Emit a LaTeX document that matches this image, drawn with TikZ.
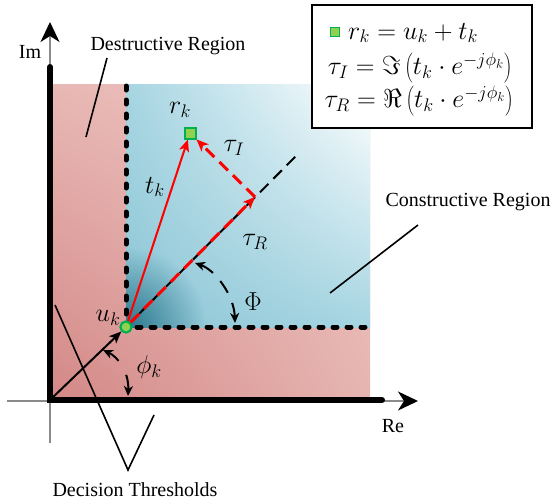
\RequirePackage{fix-cm}
\documentclass[tikz,border=0pt]{standalone}
\usepackage{fontspec}
\setmainfont{Liberation Serif}
\newfontfamily\labelfont{Liberation Serif}
\usetikzlibrary{arrows.meta,fadings,shadings}
\tikzfading[name=radfade, inner color=transparent!0, outer color=transparent!100]
\definecolor{pinkLL}{HTML}{D38886}
\definecolor{pinkUL}{HTML}{E8B8B5}
\definecolor{pinkLR}{HTML}{E6B5B1}
\definecolor{pinkUR}{HTML}{EFC6C3}
\definecolor{blueLL}{HTML}{8DC6D6}
\definecolor{blueMid}{HTML}{A6D5E2}
\definecolor{blueDark}{HTML}{2A778D}
\definecolor{lgreen}{HTML}{92D050}
\definecolor{dgreen}{HTML}{00B050}
\definecolor{axgray}{HTML}{8A8A8A}
\definecolor{vred}{HTML}{FF0000}
\begin{document}
\begin{tikzpicture}[x=1pt,y=-1pt,
  txt/.style={font=\labelfont\fontsize{20}{24}\selectfont, inner sep=0pt},
  mth/.style={font=\fontsize{26}{30}\selectfont, inner sep=0pt},
  thinline/.style={line width=1.6pt},
  boundary/.style={line width=5pt, dash pattern=on 4pt off 10pt, line cap=round},
  axisgray/.style={draw=axgray, line width=2pt, -{Stealth[length=20pt,width=19pt,inset=6pt,color=black]}},
  thickaxis/.style={line width=6pt, line cap=round},
  blackdash/.style={line width=2pt, dash pattern=on 12pt off 7pt},
  reddash/.style={draw=vred, line width=3pt, dash pattern=on 12pt off 7pt, -{Stealth[length=12pt,width=10pt,inset=3pt]}},
  redsolid/.style={draw=vred, line width=2pt, -{Stealth[length=12pt,width=10pt,inset=3pt]}},
  blackarrow/.style={line width=2pt, -{Stealth[length=12pt,width=10pt,inset=3pt]}},
  anglearc/.style={line width=2pt, {Stealth[length=10pt,width=9pt,inset=3pt]}-{Stealth[length=10pt,width=9pt,inset=3pt]}},
  ucircle/.style={circle, fill=lgreen, draw=dgreen, line width=2pt, minimum size=11pt, inner sep=0pt},
  rsquare/.style={rectangle, fill=lgreen, draw=dgreen, line width=2pt, minimum size=11pt, inner sep=0pt},
  legendbox/.style={draw, line width=2.5pt, fill=white, minimum width=220pt, minimum height=123pt, inner sep=0pt}
]
\useasboundingbox (0,0) rectangle (555,504);
% regions
\shade[upper left=pinkUL, upper right=pinkUR, lower left=pinkLL, lower right=pinkLR] (52,84) rectangle (370,400);
\shade[upper left=blueMid, upper right=white, lower left=blueLL, lower right=blueMid] (126,84) rectangle (370,327);
\begin{scope}
  \clip (126,84) rectangle (370,327);
  \fill[blueDark, path fading=radfade] (126,327) circle (80);
\end{scope}
% axes
\coordinate (O) at (50,400);
\coordinate (ImS) at (50,443);
\coordinate (ImE) at (50,22);
\coordinate (ReS) at (7,401);
\coordinate (ReE) at (418,401);
\draw[axisgray] (ImS) -- (ImE);
\draw[axisgray] (ReS) -- (ReE);
\coordinate (ThTop) at (50,67);
\coordinate (ThRight) at (382,400);
\draw[thickaxis] (ThTop) -- (O) -- (ThRight);
\node[txt] (Im) at (30,52) {Im};
\node[txt] (Re) at (393,426) {Re};
% points
\node[ucircle] (U) at (126,327) {};
\node[rsquare] (R) at (190,133) {};
\coordinate (C) at (255,197);
\coordinate (D) at (297,155);
\coordinate (Utop) at (126,86);
\coordinate (Uright) at (368,327);
% boundaries
\draw[boundary] (Utop) -- (U.center) -- (Uright);
\draw[blackdash] (U.center) -- (D);
% vectors
\draw[blackarrow] (O) -- (U);
\draw[reddash] (U) -- (C);
\draw[reddash] (C) -- (R);
\draw[redsolid] (U) -- (R);
\node[ucircle] at (U) {};
% angle arcs
\coordinate (PhA) at (235,323);
\coordinate (PhB) at (195,263);
\draw[anglearc, dash pattern=on 14pt off 11pt] (PhA) .. controls (234,295) and (215,270) .. (PhB);
\coordinate (phA) at (128,396);
\coordinate (phB) at (103,350);
\draw[anglearc, dash pattern=on 15pt off 16pt on 40pt off 1pt] (phA) .. controls (129,372) and (118,357) .. (phB);
% math labels
\node[mth] (uk) at (108,318) {$u_k$};
\node[mth] (rk) at (180,110) {$r_k$};
\node[mth] (tk) at (155,187) {$t_k$};
\node[mth] (tI) at (234,148) {$\tau_I$};
\node[mth] (tR) at (255,242) {$\tau_R$};
\node[mth] (Phi) at (253,302) {$\Phi$};
\node[mth] (phik) at (149,367) {$\phi_k$};
% region labels
\node[txt] (destr) at (168,46) {Destructive Region};
\coordinate (d1) at (107,58);
\coordinate (d2) at (86,137);
\draw[thinline] (d1) -- (d2);
\node[txt] (constr) at (468,202) {Constructive Region};
\coordinate (c1) at (418,225);
\coordinate (c2) at (330,293);
\draw[thinline] (c1) -- (c2);
\node[txt] (decis) at (135,490) {Decision Thresholds};
\coordinate (t1) at (55,305);
\coordinate (t2) at (128,470);
\coordinate (t3) at (154,415);
\draw[thinline] (t1) -- (t2) -- (t3);
% legend
\node[legendbox] (legend) at (422,66.5) {};
\node[rsquare, minimum size=9pt, line width=1.6pt] (legsq) at (335,32) {};
\node[mth, anchor=west] (L1) at (348,33) {$r_k = u_k + t_k$};
\node[mth] (L2) at (420,68) {$\tau_I = \Im\left(t_k\cdot e^{-j\phi_k}\right)$};
\node[mth] (L3) at (419,101) {$\tau_R = \Re\left(t_k\cdot e^{-j\phi_k}\right)$};
\end{tikzpicture}
\end{document}
